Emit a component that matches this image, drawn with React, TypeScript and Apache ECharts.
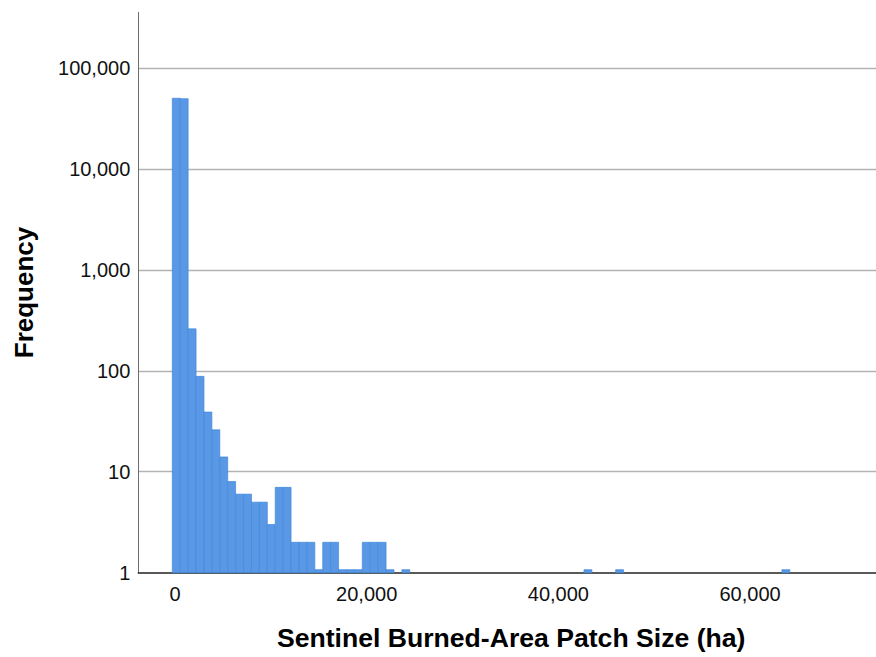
import React, { useEffect, useRef } from "react";
import * as echarts from "echarts";

// Histogram bins (ha): bin i spans [BIN_START + i*BIN_WIDTH, BIN_START + (i+1)*BIN_WIDTH)
const BIN_START = -282;
const BIN_WIDTH = 826;
const binIndex = [0, 1, 2, 3, 4, 5, 6, 7, 8, 9, 10, 11, 12, 13, 14, 15, 16, 17, 18, 19, 20, 21, 22, 23, 24, 25, 26, 27, 29, 52, 56, 77];
const frequency = [50000, 49500, 260, 88, 39, 26, 14, 8, 6, 6, 5, 5, 3, 7, 7, 2, 2, 2, 1, 2, 2, 1, 1, 1, 2, 2, 2, 1, 1, 1, 1, 1];

const yTicks = [1, 10, 100, 1000, 10000, 100000];
const xTicks = [0, 20000, 40000, 60000];

const X_MIN = -3830;
const X_MAX = 73140;
const Y_MAX = 355000;

const FONT = "'Liberation Sans', Arial, Helvetica, sans-serif";

const fmt = (v: number) => Math.round(v).toLocaleString("en-US");

export default function App() {
  const ref = useRef<HTMLDivElement>(null);
  useEffect(() => {
    if (!ref.current) return;
    const chart = echarts.init(ref.current, null, { renderer: "svg" });
    const data = binIndex.map((b, i) => [
      BIN_START + b * BIN_WIDTH,
      BIN_START + (b + 1) * BIN_WIDTH,
      frequency[i],
    ]);
    chart.setOption({
      animation: false,
      backgroundColor: "#ffffff",
      grid: { left: 138.3, right: 0, top: 12.3, bottom: 84.3, containLabel: false },
      xAxis: {
        type: "value",
        min: X_MIN,
        max: X_MAX,
        splitNumber: 5,
        name: "Sentinel Burned-Area Patch Size (ha)",
        nameLocation: "middle",
        nameGap: 52,
        nameTextStyle: { fontFamily: FONT, fontSize: 26.6, fontWeight: "bold", color: "#000", padding: [0, 0, 0, 8] },
        axisLine: { show: true, onZero: false, lineStyle: { color: "#222", width: 1.5 } },
        axisTick: { show: false },
        splitLine: { show: false },
        axisLabel: {
          showMinLabel: false,
          showMaxLabel: false,
          margin: 11,
          fontFamily: FONT,
          fontSize: 20,
          color: "#111",
          formatter: (v: number) => (xTicks.indexOf(v) >= 0 ? fmt(v) : ""),
        },
      },
      yAxis: {
        type: "log",
        logBase: 10,
        min: 1,
        max: Y_MAX,
        name: "Frequency",
        nameLocation: "middle",
        nameGap: 101,
        nameTextStyle: { fontFamily: FONT, fontSize: 26, fontWeight: "bold", color: "#000" },
        axisLine: { show: true, onZero: false, lineStyle: { color: "#6e6e6e", width: 1 } },
        axisTick: { show: false },
        splitLine: { show: true, showMinLine: false, showMaxLine: false, lineStyle: { color: "#b3b3b3", width: 1.4 } },
        axisLabel: {
          margin: 8,
          fontFamily: FONT,
          fontSize: 20,
          color: "#111",
          padding: [2, 0, 0, 0],
          formatter: (v: number) => (yTicks.some((t) => Math.abs(t - v) / t < 1e-6) ? fmt(v) : ""),
        },
      },
      series: [
        {
          type: "custom",
          data,
          encode: { x: [0, 1], y: 2 },
          renderItem: (_params: any, api: any) => {
            const x0 = api.value(0);
            const x1 = api.value(1);
            const c = api.value(2);
            const pTop = api.coord([x0, c]);
            const pBot = api.coord([x1, 1]);
            let top = pTop[1];
            const bottom = pBot[1];
            if (bottom - top < 3) top = bottom - 3;
            return {
              type: "rect",
              shape: { x: pTop[0], y: top, width: pBot[0] - pTop[0], height: bottom - top },
              style: { fill: "#5a97e4", stroke: "#3f8ade", lineWidth: 0.7 },
            };
          },
        },
      ],
    });
    return () => chart.dispose();
  }, []);
  return (
    <div
      ref={ref}
      style={{ position: "fixed", left: 0, top: 0, width: 876, height: 657, background: "#fff" }}
    />
  );
}
